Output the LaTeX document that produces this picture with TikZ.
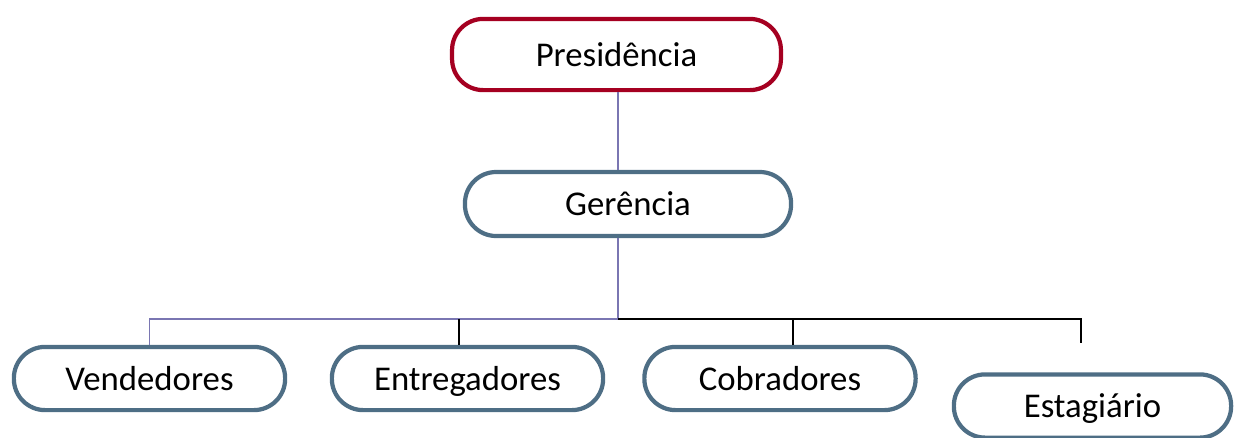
\documentclass[tikz,border=0pt]{standalone}
\usepackage{fontspec}
\setmainfont{Carlito}
\definecolor{vermelho}{HTML}{A50021}
\definecolor{azulcinza}{HTML}{4E6E85}
\definecolor{lilas}{HTML}{7A76B2}
\tikzset{
setor/.style={
	  draw=azulcinza, line width=3pt, fill=white,
	    rounded corners=0.78cm, minimum width=6.78cm,
    minimum height=1.58cm, inner sep=0pt,
    text height=22pt, text depth=5pt,
    font=\fontsize{24.7}{30}\selectfont},
chefia/.style={setor, draw=vermelho},
ligacao/.style={draw=lilas, line width=1.1pt},
ramo/.style={draw=black, line width=1.1pt}
}

\begin{document}
\begin{tikzpicture}[x=0.025cm, y=-0.025cm]
	\useasboundingbox (0,0) rectangle (1239,437);
	% caixas
	\node[chefia, minimum width=8.22cm, minimum height=1.78cm] (pres) at (616.5,54.5) {Presidência};
	\node[setor, minimum width=8.15cm, minimum height=1.6cm] (ger) at (628,204) {Gerência};
	\node[setor] (vend) at (149.5,378.5) {Vendedores};
	\node[setor] (entr) at (467.5,378.5) {Entregadores};
	\node[setor] (cobr) at (780,378.5) {Cobradores};
	\node[setor, minimum width=6.93cm] (estag) at (1092.5,406) {Estagiário};
	% pontos das ligacoes
	\coordinate (tronco) at (618,319);
	\coordinate (r-entr) at (459,319);
	\coordinate (r-cobr) at (793,319);
	\coordinate (r-estag) at (1081,319);
	\coordinate (p-estag) at (1081,343);
	% ligacoes
	\draw[ligacao] (pres.south -| tronco) -- (ger.north -| tronco);
	\draw[ligacao] (ger.south -| tronco) -- (tronco) -| (vend.north);
	\draw[ramo] (tronco) -- (r-estag) -- (p-estag);
	\draw[ramo] (r-entr) -- (entr.north -| r-entr);
	\draw[ramo] (r-cobr) -- (cobr.north -| r-cobr);
\end{tikzpicture}
\end{document}
